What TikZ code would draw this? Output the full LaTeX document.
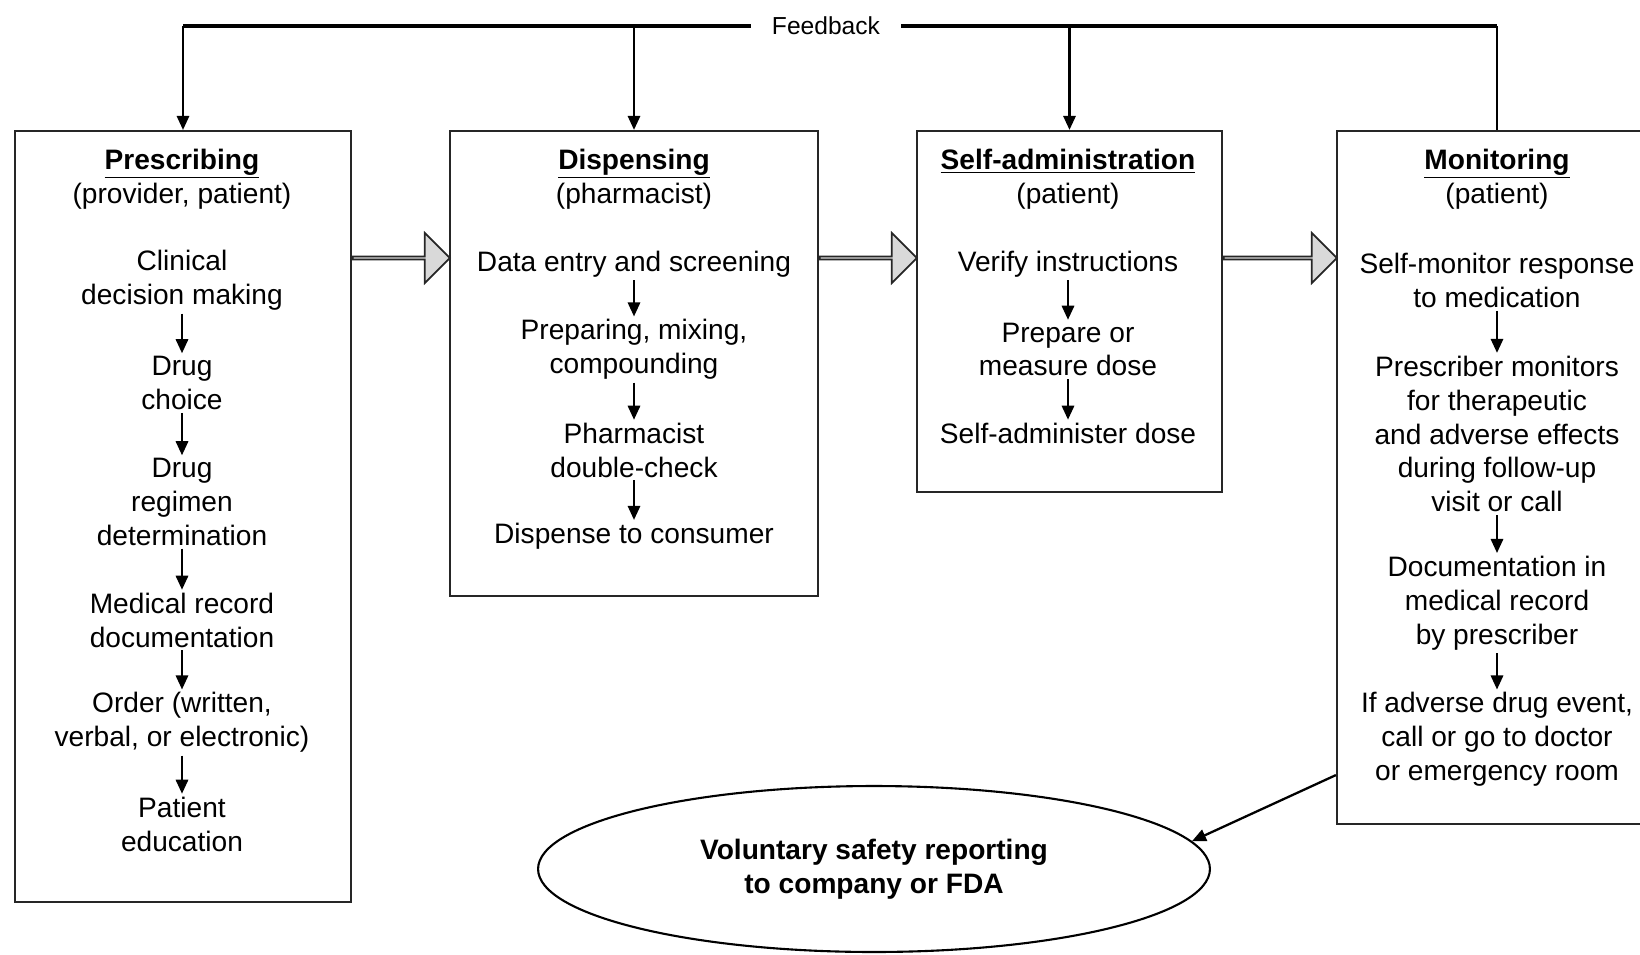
\documentclass[tikz,border=0pt]{standalone}
\usepackage{fontspec}
\setmainfont{Liberation Sans}
\usetikzlibrary{arrows.meta,shapes.geometric,shapes.arrows,calc}

\begin{document}
\begin{tikzpicture}[x=0.02cm,y=-0.02cm,
    every node/.style={font=\fontsize{16}{19.3}\selectfont},
    stage/.style={draw=black!85,line width=1.3pt,inner sep=0pt},
    head/.style={align=center,inner sep=1pt},
    task/.style={align=center,inner sep=1.5pt},
    flow/.style={-{Triangle[length=8pt,width=7pt]},line width=1.3pt},
    fbline/.style={line width=2.2pt},
    fat/.style={single arrow,draw=black!85,line width=1pt,fill=gray!30,
      minimum width=1cm,single arrow head extend=0.26cm,inner sep=0pt}]
  \useasboundingbox (0,0) rectangle (1640,954);

  % the four stages
  \node[stage,minimum width=6.72cm,minimum height=15.42cm] (presc) at (183,516.5) {};
  \node[stage,minimum width=7.36cm,minimum height=9.3cm] (disp) at (634,363.5) {};
  \node[stage,minimum width=6.1cm,minimum height=7.22cm] (selfadm) at (1069.5,311.5) {};
  \node[stage,minimum width=6.26cm,minimum height=13.86cm] (mon) at (1493.5,477.5) {};

  % prescribing
  \node[head] (h1) at (182,179) {\underline{\textbf{Prescribing}}\\(provider, patient)};
  \node[task] (p1) at (182,280.5) {Clinical\\decision making};
  \node[task] (p2) at (182,383) {Drug\\choice};
  \node[task] (p3) at (182,502) {Drug\\regimen\\determination};
  \node[task] (p4) at (182,620) {Medical record\\documentation};
  \node[task] (p5) at (182,722.5) {Order (written,\\verbal, or electronic)};
  \node[task] (p6) at (182,824) {Patient\\education};
  \draw[flow] (p1) -- (p2);
  \draw[flow] (p2) -- (p3);
  \draw[flow] (p3) -- (p4);
  \draw[flow] (p4) -- (p5);
  \draw[flow] (p5) -- (p6);

  % dispensing
  \node[head] (h2) at (634,179) {\underline{\textbf{Dispensing}}\\(pharmacist)};
  \node[task] (d1) at (634,264) {Data entry and screening};
  \node[task] (d2) at (634,349.5) {Preparing, mixing,\\compounding};
  \node[task] (d3) at (634,450) {Pharmacist\\double-check};
  \node[task] (d4) at (634,536) {Dispense to consumer};
  \draw[flow] (d1) -- (d2);
  \draw[flow] (d2) -- (d3);
  \draw[flow] (d3) -- (d4);

  % self-administration
  \node[head] (h3) at (1068,179) {\underline{\textbf{Self-administration}}\\(patient)};
  \node[task] (s1) at (1068,264) {Verify instructions};
  \node[task] (s2) at (1068,349.5) {Prepare or\\measure dose};
  \node[task] (s3) at (1068,433) {Self-administer dose};
  \draw[flow] (s1) -- (s2);
  \draw[flow] (s2) -- (s3);

  % monitoring
  \node[head] (h4) at (1497,179) {\underline{\textbf{Monitoring}}\\(patient)};
  \node[task] (m1) at (1497,280.5) {Self-monitor response\\to medication};
  \node[task] (m2) at (1497,434) {Prescriber monitors\\for therapeutic\\and adverse effects\\during follow-up\\visit or call};
  \node[task] (m3) at (1497,603) {Documentation in\\medical record\\by prescriber};
  \node[task] (m4) at (1497,739.5) {If adverse drug event,\\call or go to doctor\\or emergency room};
  \draw[flow] (m1) -- (m2);
  \draw[flow] (m2) -- (m3);
  \draw[flow] (m3) -- (m4);

  % big arrows between stages
  \node[fat,minimum height=1.94cm] (a1) at ($(presc.east |- 0,258)!.5!(disp.west |- 0,258)$) {};
  \node[fat,minimum height=1.94cm] (a2) at ($(disp.east |- 0,258)!.5!(selfadm.west |- 0,258)$) {};
  \node[fat,minimum height=2.26cm] (a3) at ($(selfadm.east |- 0,258)!.5!(mon.west |- 0,258)$) {};

  % feedback loop
  \node[inner xsep=0.42cm,font=\fontsize{14}{16}\selectfont] (fb) at (826,26) {Feedback};
  \coordinate (fbr) at (m1 |- fb);
  \draw[line width=1.3pt] (mon.north -| m1) -- (fbr);
  \draw[fbline] (fbr) -- (fb.east);
  \draw[fbline] (fb.west) -- (fb.west -| presc.north);
  \draw[flow] (fb.west -| presc.north) -- (presc.north);
  \draw[flow] (disp.north |- fb) -- (disp.north);
  \draw[flow] (selfadm.north |- fb) -- (selfadm.north);

  % reporting
  \node[draw,ellipse,line width=1.2pt,inner sep=0pt,align=center,
    minimum width=13.44cm,minimum height=3.32cm,
    font=\fontsize{16}{19.3}\selectfont\bfseries] (report) at (874,869)
    {Voluntary safety reporting\\to company or FDA};
  \draw[flow] ($(mon.south west)+(0,-50)$) -- (report.5);
\end{tikzpicture}
\end{document}
